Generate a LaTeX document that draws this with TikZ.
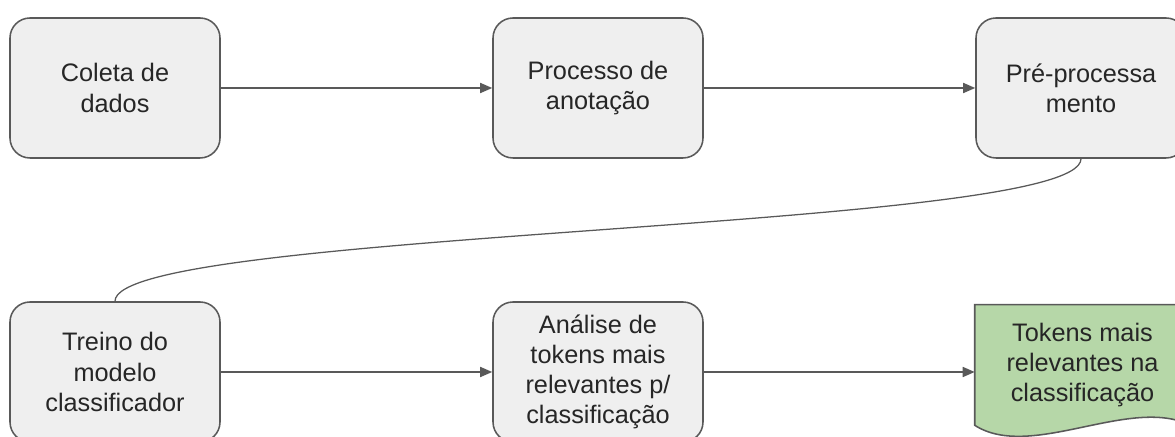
\documentclass[tikz,border=0pt]{standalone}
\usepackage{fontspec}
\setmainfont{Liberation Sans}
\usetikzlibrary{arrows.meta, backgrounds}
\usepackage{xcolor}
\definecolor{boxgray}{HTML}{EFEFEF}
\definecolor{linegray}{HTML}{595959}
\definecolor{docgreen}{HTML}{B6D7A8}

\begin{document}
\begin{tikzpicture}[stage/.style={rectangle, draw=linegray, line width=1.1pt, rounded corners=0.5cm,
  fill=boxgray, minimum width=5.25cm, minimum height=3.5cm, align=center,
  font=\fontsize{18}{21.4}\selectfont, text=black!85},
  docnode/.style={rectangle, minimum width=5.375cm, minimum height=3cm, inner sep=0pt,
  align=center, font=\fontsize{18}{21.4}\selectfont, text=black!85},
  flow/.style={draw=linegray, line width=1.2pt, -{Triangle[length=0.3cm, width=0.25cm]}}]
  \useasboundingbox (0,0) rectangle (29.375,-10.925);
  \node[stage] (b1) at (2.875,-2.2) {Coleta de\\dados};
  \node[stage] (b2) at (14.95,-2.2) {Processo de\\anotação};
  \node[stage] (b3) at (27.025,-2.2) {Pré-processa\\mento};
  \node[stage] (b4) at (2.875,-9.3) {Treino do\\modelo\\classificador};
  \node[stage] (b5) at (14.95,-9.3) {Análise de\\tokens mais\\relevantes p/\\classificação};
  \node[docnode] (doc) at (27.0625,-9.125) {Tokens mais\\relevantes na\\classificação};

  % document shape behind the last node
  \begin{scope}[on background layer]
    \draw[draw=linegray, fill=docgreen, line width=1.1pt] (doc.south west) -- (doc.north west)
      -- (doc.north east) -- (doc.south east)
      .. controls +(-1.5,0.75) and +(1.4,-0.9) .. (doc.south west) -- cycle;
  \end{scope}

  \draw[flow] (b1) -- (b2);
  \draw[flow] (b2) -- (b3);
  \draw[draw=linegray, line width=0.9pt] (b3.south) .. controls +(0,-1.8) and +(0,1.8) .. (b4.north);
  \draw[flow] (b4) -- (b5);
  \draw[flow] (b5) -- (doc.west |- b5);
\end{tikzpicture}
\end{document}
